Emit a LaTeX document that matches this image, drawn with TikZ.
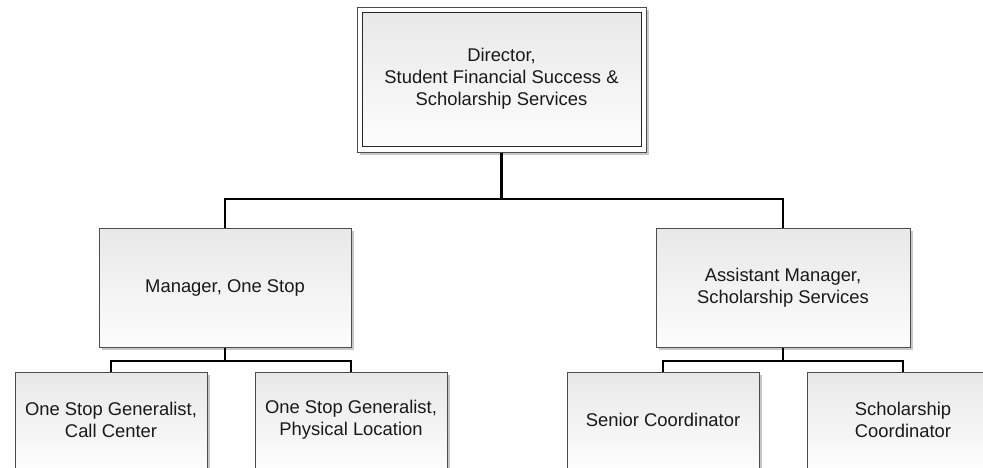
\documentclass[tikz,border=0pt]{standalone}
\usepackage{fontspec}
\setmainfont{Liberation Sans}
\usetikzlibrary{shadows}
\tikzset{
  box/.style={draw=black!70, line width=0.5pt, top color=black!9, bottom color=black!1,
    text=black!90, font=\fontsize{9.2}{11}\selectfont, align=center, inner sep=0pt,
    drop shadow={shadow xshift=1.5pt, shadow yshift=-1.5pt, fill=black!22, opacity=1}},
  outerbox/.style={draw=black!70, line width=0.5pt, fill=white, inner sep=0pt,
    drop shadow={shadow xshift=1.5pt, shadow yshift=-1.5pt, fill=black!22, opacity=1}},
  innerbox/.style={draw=black!85, line width=0.5pt, top color=black!9, bottom color=black!1,
    text=black!90, font=\fontsize{9.2}{11}\selectfont, align=center, inner sep=0pt},
  conn/.style={draw=black, line width=1.4pt},
}
\begin{document}
\begin{tikzpicture}[x=0.5pt, y=-0.5pt]
\useasboundingbox (0,0) rectangle (983,467);
\clip (0,0) rectangle (983,467);
% Director
\node[outerbox, minimum width=144.5pt, minimum height=72.5pt] (dirout) at (501.5,79.5) {};
\node[innerbox, minimum width=139.5pt, minimum height=67pt] (dir) at (501.5,79)
  {Director,\\Student Financial Success \&\\Scholarship Services};
% Managers
\node[box, minimum width=126pt, minimum height=59.5pt] (mgr) at (225,287.5) {Manager, One Stop};
\node[box, minimum width=127pt, minimum height=59.5pt] (am) at (783,287.5) {Assistant Manager,\\Scholarship Services};
% Staff
\node[box, minimum width=96pt, minimum height=48pt] (c1) at (111,420) {One Stop Generalist,\\Call Center};
\node[box, minimum width=96pt, minimum height=48pt] (c2) at (351,420) {One Stop Generalist,\\Physical Location};
\node[box, minimum width=96pt, minimum height=48pt] (c3) at (663,420) {Senior Coordinator};
\node[box, minimum width=96pt, minimum height=48pt] (c4) at (903,420) {Scholarship\\Coordinator};
% Buses
\coordinate (bus1) at (0,199);
\coordinate (bus2) at (0,361);
\draw[conn] (dirout.south) -- (dirout.south |- bus1) -| (mgr.north);
\draw[conn] (dirout.south) -- (dirout.south |- bus1) -| (am.north);
\draw[conn] (mgr.south) -- (mgr.south |- bus2) -| (c1.north);
\draw[conn] (mgr.south) -- (mgr.south |- bus2) -| (c2.north);
\draw[conn] (am.south) -- (am.south |- bus2) -| (c3.north);
\draw[conn] (am.south) -- (am.south |- bus2) -| (c4.north);
\end{tikzpicture}
\end{document}
